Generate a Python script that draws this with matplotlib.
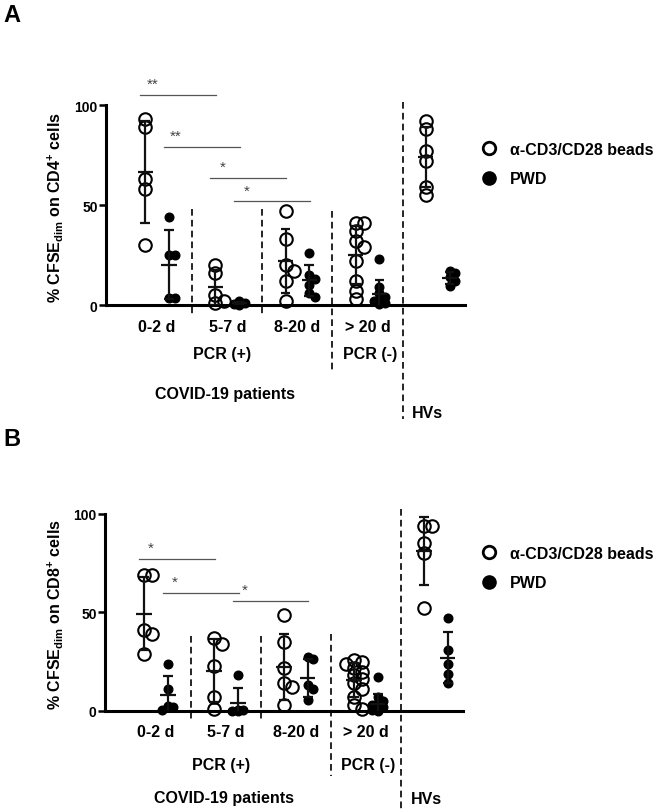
import numpy as np
import matplotlib
matplotlib.use('Agg')
import matplotlib.pyplot as plt
from matplotlib.lines import Line2D

plt.rcParams['font.family'] = ['Liberation Sans', 'DejaVu Sans']
plt.rcParams['font.weight'] = 'bold'
plt.rcParams['mathtext.fontset'] = 'custom'
plt.rcParams['mathtext.rm'] = 'Liberation Sans:bold'
plt.rcParams['mathtext.default'] = 'rm'

groups = ['0-2 d', '5-7 d', '8-20 d', '> 20 d', '']
series = ['\u03b1-CD3/CD28 beads', 'PWD']

# % CFSE dim, CD4+ (panel A)
cd4_beads = [
    [93, 89, 63, 58, 30],
    [20, 16, 5, 2, 1],
    [47, 33, 20, 17, 12, 2],
    [41, 41, 37, 32, 29, 22, 12, 7, 3],
    [92, 88, 77, 72, 59, 55],
]
cd4_pwd = [
    [44, 25, 25, 3.5, 3.5],
    [2, 1, 0.5, 0.3, 0.2],
    [26, 15, 13, 10, 6, 4],
    [23, 9, 6, 4, 3, 2, 1.5, 1, 0.5],
    [17, 16, 14, 12, 9.5],
]
# (group from, group to, series index, label)
cd4_sig = [(0, 1, 0, '**'), (0, 1, 1, '**'), (1, 2, 0, '*'), (1, 2, 1, '*')]
cd4_sig_y = [105, 79, 63.5, 51.8]

# % CFSE dim, CD8+ (panel B)
cd8_beads = [
    [69, 69, 41, 39, 29],
    [37, 34, 23, 7, 1],
    [48.5, 35, 22, 14, 12, 3],
    [26, 25, 24, 22, 20, 18, 16, 14, 11, 7, 3, 1],
    [94, 94, 85, 80, 52],
]
cd8_pwd = [
    [24, 11, 2.5, 2, 0.5],
    [18, 0.5, 0.3, 0.2, 0.1],
    [27.5, 26.5, 13, 11, 5.5],
    [17, 7, 5, 4, 3, 2, 1.5, 1, 0.5, 0.3, 0.2],
    [47, 31, 24, 19, 14],
]
cd8_sig = [(0, 1, 0, '*'), (0, 1, 1, '*'), (1, 2, 1, '*')]
cd8_sig_y = [77, 59.8, 55.7]

W, H = 655, 812
fig = plt.figure(figsize=(W / 100, H / 100), dpi=100)

OFFSET = 0.34  # PWD column to the right of the beads column


def px_axes(left, top, right, bottom):
    return fig.add_axes([left / W, 1 - bottom / H, (right - left) / W, (bottom - top) / H])


def swarm(ax, xc, vals, diam):
    # spread points sideways only when they would sit on top of each other
    tr = ax.transData
    placed, out = [], []
    step = diam * 0.65
    for v in vals:
        px, py = tr.transform((xc, v))
        best = px
        for k in (0, 1, -1):
            cx = px + k * step
            d = min([np.hypot(cx - qx, py - qy) for qx, qy in placed] or [1e9])
            if d >= diam * 0.6:
                best = cx
                break
        placed.append((best, py))
        out.append(tr.inverted().transform((best, py))[0])
    return out


def mean_sd(ax, xc, vals):
    m = np.mean(vals)
    sd = np.std(vals, ddof=1)
    kw = dict(color='#111111', lw=1.6, zorder=5, solid_capstyle='butt')
    ax.plot([xc, xc], [m - sd, m + sd], **kw)
    ax.plot([xc - 0.07, xc + 0.07], [m + sd, m + sd], **kw)
    ax.plot([xc - 0.07, xc + 0.07], [m - sd, m - sd], **kw)
    ax.plot([xc - 0.11, xc + 0.11], [m, m], **kw)


def panel(ax, beads, pwd, sig, sig_y, ylabel, dash_ext, lab_y, hv_y, leg_top):
    ax.set_xlim(-0.56, 4.56)
    ax.set_ylim(0, 110)
    for s in ['top', 'right']:
        ax.spines[s].set_visible(False)
    ax.spines['left'].set_bounds(0, 100)
    ax.spines['left'].set_linewidth(2.2)
    ax.spines['bottom'].set_linewidth(2.2)
    ax.set_yticks([0, 50, 100])
    ax.set_xticks([])
    ax.tick_params(axis='y', length=5, width=1.8, labelsize=10, pad=1)

    for g in range(len(groups)):
        xs = swarm(ax, g, beads[g], 12.5)
        ax.plot(xs, beads[g], 'o', ms=9, mfc='none', mec='k', mew=1.5, zorder=3, clip_on=False)
        mean_sd(ax, g, beads[g])
        xs = swarm(ax, g + OFFSET, pwd[g], 8.5)
        ax.plot(xs, pwd[g], 'o', ms=6.2, color='k', zorder=3, clip_on=False)
        mean_sd(ax, g + OFFSET, pwd[g])

    # separators
    for k, (y0, y1) in enumerate(dash_ext):
        ax.plot([k + 0.67, k + 0.67], [y0, y1], color='k', lw=1.2,
                ls=(0, (4, 2.5)), clip_on=False)

    # significance bars
    for (g1, g2, si, lab), y in zip(sig, sig_y):
        x1 = g1 + si * OFFSET - 0.07
        x2 = g2 + si * OFFSET + 0.01
        ax.plot([x1, x2], [y, y], color='#555555', lw=0.9, clip_on=False)
        ax.text(x1 + 0.17, y + 2, lab, ha='center', va='bottom', fontsize=11,
                fontweight='normal', color='#444444', clip_on=False)

    for g in range(4):
        ax.text(g + 0.17, -10.5, groups[g], ha='center', va='center', fontsize=11.5)
    ax.text(1.10, lab_y[0], 'PCR (+)', ha='center', va='center', fontsize=11.5)
    ax.text(3.20, lab_y[0], 'PCR (-)', ha='center', va='center', fontsize=11.5)
    ax.text(1.14, lab_y[1], 'COVID-19 patients', ha='center', va='center', fontsize=11.5)
    ax.text(4.03, hv_y, 'HVs', ha='center', va='center', fontsize=11.5)

    pos = ax.get_position()
    yc = pos.y0 + pos.height * 49.25 / 110
    fig.text(55 / W, yc, ylabel, rotation=90, ha='center', va='center', fontsize=11.5)

    handles = [Line2D([], [], marker='o', ls='none', mfc='white', mec='k', mew=2, ms=9),
               Line2D([], [], marker='o', ls='none', color='k', ms=9.5)]
    ax.legend(handles, series, loc='upper left', bbox_to_anchor=(481 / W, 1 - leg_top / H),
              bbox_transform=fig.transFigure, frameon=False, fontsize=11.5,
              handlelength=1.0, handletextpad=0.8, labelspacing=0.9,
              borderpad=0, borderaxespad=0)


ax_a = px_axes(106, 86, 465, 306)
panel(ax_a, cd4_beads, cd4_pwd, cd4_sig, cd4_sig_y,
      r'% CFSE$_{dim}$ on CD4$^{+}$ cells',
      [(48, -4.5), (48, -4.5), (47, -33.5), (101.5, -57)],
      (-24.5, -44), -53.5, 143)

ax_b = px_axes(105, 495, 463, 712)
panel(ax_b, cd8_beads, cd8_pwd, cd8_sig, cd8_sig_y,
      r'% CFSE$_{dim}$ on CD8$^{+}$ cells',
      [(38, -5), (38, -5), (39, -33), (102.6, -51)],
      (-27, -44), -44.6, 547)

fig.text(12 / W, 1 - 15 / H, 'A', fontsize=17, ha='center', va='center')
fig.text(12 / W, 1 - 440 / H, 'B', fontsize=17, ha='center', va='center')

fig.savefig('out.png', dpi=100)
